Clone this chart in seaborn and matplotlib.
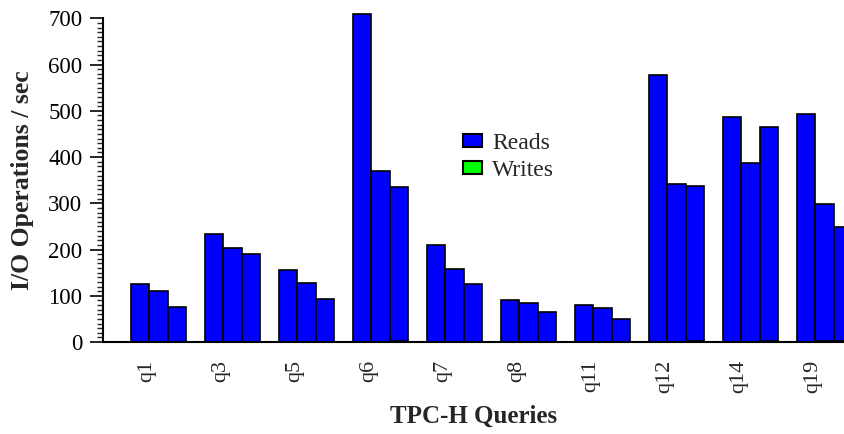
import numpy as np
import pandas as pd
import seaborn as sns
import matplotlib
matplotlib.use("Agg")
import matplotlib.pyplot as plt
from matplotlib.patches import Patch
from matplotlib.ticker import MultipleLocator

# TPC-H queries, three runs per query
queries = ["q1", "q3", "q5", "q6", "q7", "q8", "q11", "q12", "q14", "q19"]
runs = ["run1", "run2", "run3"]

reads_run1 = [126, 234, 156, 709, 210, 91, 79, 577, 487, 494]
reads_run2 = [110, 204, 127, 369, 158, 85, 73, 341, 387, 298]
reads_run3 = [76, 190, 92, 335, 125, 65, 50, 337, 466, 249]

writes_run1 = [0.5, 0.5, 0.5, 1.0, 0.5, 0.5, 0.5, 1.0, 1.0, 1.0]
writes_run2 = [0.5, 0.5, 0.5, 1.0, 0.5, 0.5, 0.5, 1.0, 1.0, 2.0]
writes_run3 = [0.5, 0.5, 0.5, 3.0, 0.5, 0.5, 0.5, 3.0, 3.0, 3.0]

y_ticks = [0, 100, 200, 300, 400, 500, 600, 700]

READ_COLOR = "#0000ff"
WRITE_COLOR = "#00ff00"

df = pd.DataFrame({
    "query": queries * 3,
    "run": np.repeat(runs, len(queries)),
    "reads": reads_run1 + reads_run2 + reads_run3,
    "writes": writes_run1 + writes_run2 + writes_run3,
})

sns.set_style("ticks")
plt.rcParams["font.family"] = ["Liberation Serif", "DejaVu Serif"]

W, H = 844, 434
fig = plt.figure(figsize=(W / 100, H / 100), dpi=100)
ax = fig.add_axes([103 / W, (H - 342) / H, (W - 103) / W, (342 - 18.3) / H])

bar_kw = dict(x="query", y="reads", hue="run", order=queries, hue_order=runs,
              width=0.75, dodge=True, saturation=1, edgecolor="black",
              linewidth=1.2, errorbar=None, legend=False, ax=ax)
sns.barplot(data=df, palette=[READ_COLOR] * 3, **bar_kw)
bar_kw["y"] = "writes"
sns.barplot(data=df, palette=[WRITE_COLOR] * 3, **bar_kw)

for p in ax.patches:
    p.set_clip_on(False)

ax.set_ylim(0, 700)
ax.set_xlim(-0.749, 9.264)
ax.set_yticks(y_ticks)
ax.yaxis.set_minor_locator(MultipleLocator(10))
ax.tick_params(axis="y", which="major", direction="out", length=9.4, width=1.2,
               pad=5.5, labelsize=16.5, colors="black")
ax.tick_params(axis="y", which="minor", direction="out", length=4.3, width=1.0)
ax.set_xticks(np.arange(len(queries)) - 0.16)
ax.set_xticklabels(queries, rotation=90)
ax.tick_params(axis="x", which="both", length=0, pad=13, labelsize=16)

for side in ("top", "right"):
    ax.spines[side].set_visible(False)
ax.spines["left"].set_linewidth(1.5)
ax.spines["bottom"].set_linewidth(1.5)
ax.spines["left"].set_color("black")
ax.spines["bottom"].set_color("black")

ax.set_xlabel("TPC-H Queries", fontsize=18, fontweight="bold", labelpad=8)
ax.set_ylabel("I/O Operations / sec", fontsize=18.5, fontweight="bold", labelpad=10)

handles = [
    Patch(facecolor=READ_COLOR, edgecolor="black", linewidth=1.5, label="Reads"),
    Patch(facecolor=WRITE_COLOR, edgecolor="black", linewidth=1.5, label="Writes"),
]
fs_px = 17 * 100 / 72
ax.legend(handles=handles, loc="center left", frameon=False, fontsize=17,
          handlelength=19.3 / fs_px, handleheight=11 / fs_px,
          handletextpad=10 / fs_px, labelspacing=0.25, borderpad=0.4,
          borderaxespad=0,
          bbox_to_anchor=((462.7 - 0.4 * fs_px) / W, (H - 157) / H),
          bbox_transform=fig.transFigure)

fig.savefig("out.png", dpi=100)
